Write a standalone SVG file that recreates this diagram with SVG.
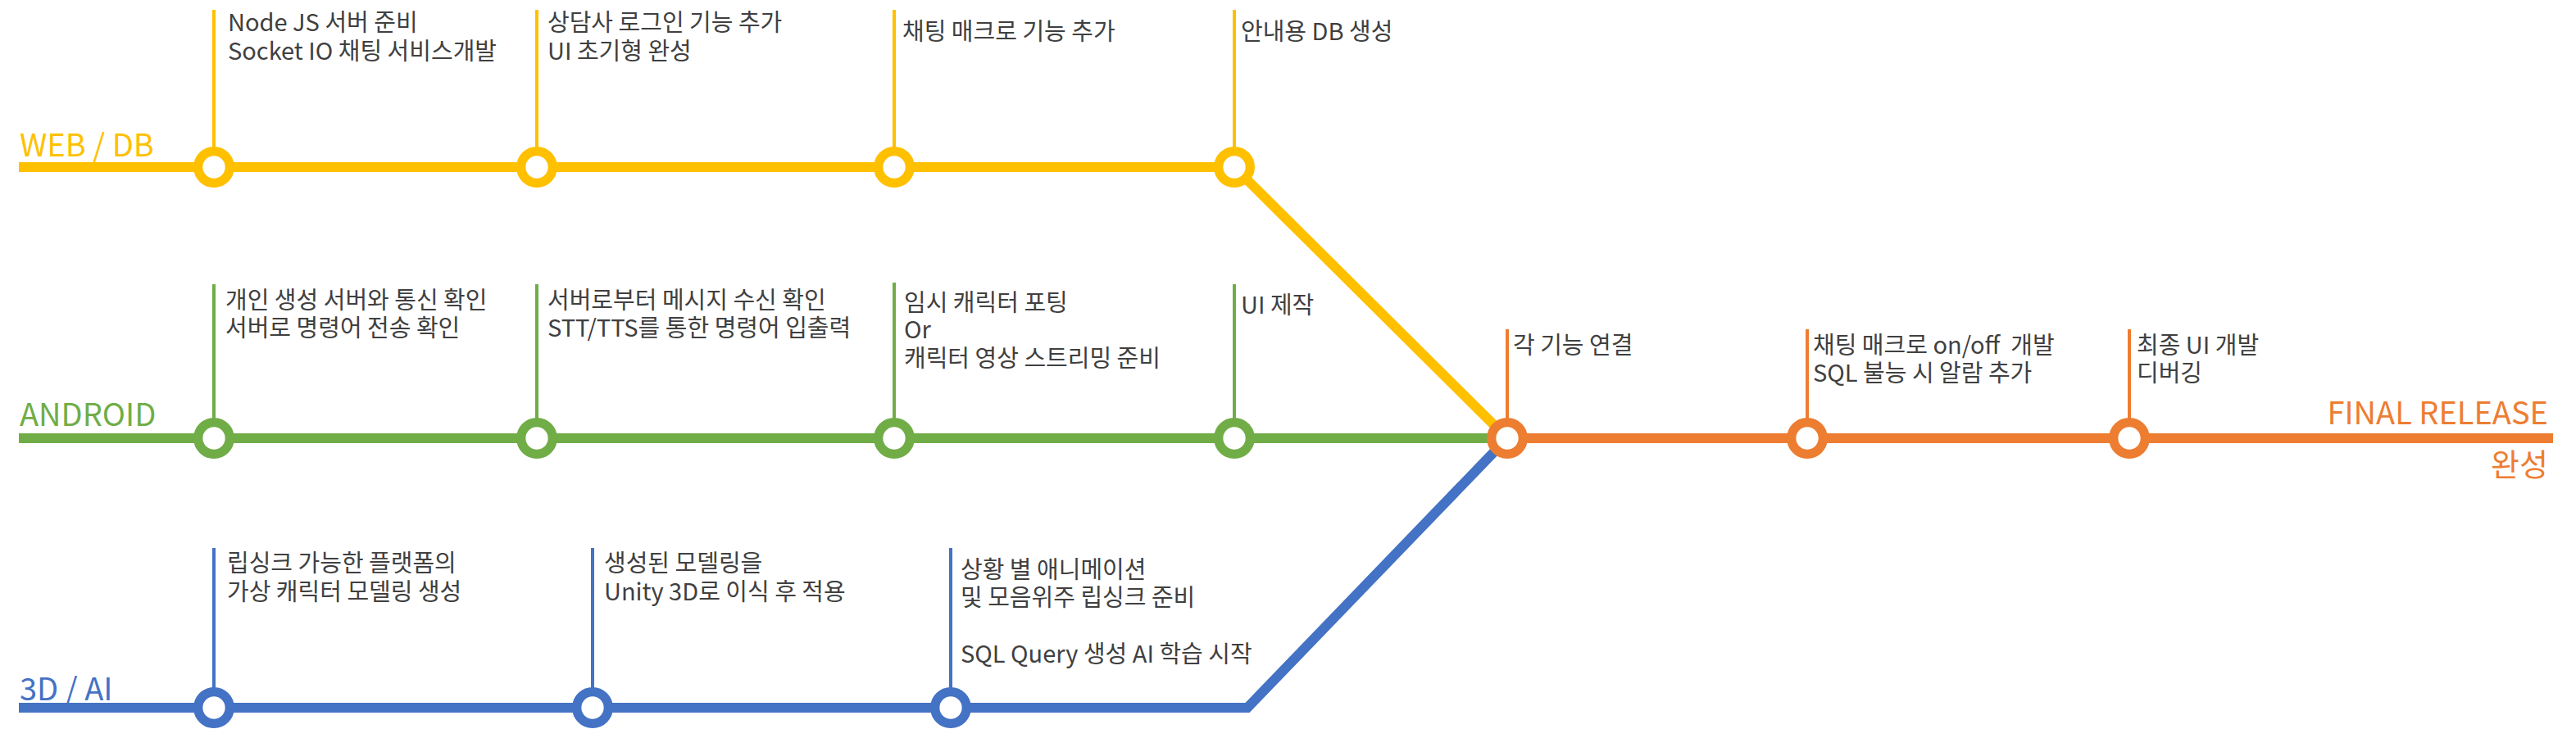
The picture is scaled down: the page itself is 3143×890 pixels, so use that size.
<svg xmlns="http://www.w3.org/2000/svg" width="3143" height="890" viewBox="0 0 3143 890">
<style>
text { font-family: "Noto Sans CJK KR", "Noto Sans", sans-serif; }
.t { font-size: 29px; fill: #404040; }
.lbl { font-size: 38px; }
.y { stroke: #FFC000; }
.g { stroke: #70AD47; }
.b { stroke: #4472C4; }
.o { stroke: #ED7D31; }
.line { fill: none; stroke-width: 12; stroke-linejoin: miter; }
.tick { fill: none; stroke-width: 4; }
.st { fill: #FFFFFF; stroke-width: 11.3; }
</style>
<rect width="3143" height="890" fill="#FFFFFF"/>
<g id="connectors">
  <polyline class="line y" points="23,204 1506,204 1839,535"/>
  <line class="line g" x1="23" y1="535" x2="1839" y2="535"/>
  <polyline class="line b" points="23,864 1522,864 1839,535"/>
  <line class="line o" x1="1839" y1="535" x2="3115" y2="535"/>
</g>
<g id="line-labels">
  <text class="lbl" x="24" y="191" fill="#FFC000">WEB / DB</text>
  <text class="lbl" x="24" y="520" fill="#70AD47">ANDROID</text>
  <text class="lbl" x="24" y="855" fill="#4472C4">3D / AI</text>
  <text class="lbl" x="3109" y="518" fill="#ED7D31" text-anchor="end">FINAL RELEASE</text>
  <text class="lbl" x="3109" y="581" fill="#ED7D31" text-anchor="end">완성</text>
</g>
<g id="web1">
  <line class="tick y" x1="261" y1="12" x2="261" y2="185"/>
  <circle class="st y" cx="261" cy="204" r="19.3"/>
  <text class="t"><tspan x="278" y="38">Node JS 서버 준비</tspan><tspan x="278" y="73">Socket IO 채팅 서비스개발</tspan></text>
</g>
<g id="web2">
  <line class="tick y" x1="655" y1="12" x2="655" y2="185"/>
  <circle class="st y" cx="655" cy="204" r="19.3"/>
  <text class="t"><tspan x="668" y="38">상담사 로그인 기능 추가</tspan><tspan x="668" y="73">UI 초기형 완성</tspan></text>
</g>
<g id="web3">
  <line class="tick y" x1="1091" y1="12" x2="1091" y2="185"/>
  <circle class="st y" cx="1091" cy="204" r="19.3"/>
  <text class="t" x="1101" y="49">채팅 매크로 기능 추가</text>
</g>
<g id="web4">
  <line class="tick y" x1="1506" y1="12" x2="1506" y2="185"/>
  <circle class="st y" cx="1506" cy="204" r="19.3"/>
  <text class="t" x="1514" y="49">안내용 DB 생성</text>
</g>
<g id="and1">
  <line class="tick g" x1="261" y1="347" x2="261" y2="516"/>
  <circle class="st g" cx="261" cy="535" r="19.3"/>
  <text class="t"><tspan x="275" y="377">개인 생성 서버와 통신 확인</tspan><tspan x="275" y="411">서버로 명령어 전송 확인</tspan></text>
</g>
<g id="and2">
  <line class="tick g" x1="655" y1="347" x2="655" y2="516"/>
  <circle class="st g" cx="655" cy="535" r="19.3"/>
  <text class="t"><tspan x="668" y="377">서버로부터 메시지 수신 확인</tspan><tspan x="668" y="411">STT/TTS를 통한 명령어 입출력</tspan></text>
</g>
<g id="and3">
  <line class="tick g" x1="1091" y1="345" x2="1091" y2="516"/>
  <circle class="st g" cx="1091" cy="535" r="19.3"/>
  <text class="t"><tspan x="1103" y="380">임시 캐릭터 포팅</tspan><tspan x="1103" y="413">Or</tspan><tspan x="1103" y="448">캐릭터 영상 스트리밍 준비</tspan></text>
</g>
<g id="and4">
  <line class="tick g" x1="1506" y1="347" x2="1506" y2="516"/>
  <circle class="st g" cx="1506" cy="535" r="19.3"/>
  <text class="t" x="1514" y="383">UI 제작</text>
</g>
<g id="fin1">
  <line class="tick o" x1="1839" y1="402" x2="1839" y2="516"/>
  <circle class="st o" cx="1839" cy="535" r="19.3"/>
  <text class="t" x="1846" y="432">각 기능 연결</text>
</g>
<g id="fin2">
  <line class="tick o" x1="2205" y1="402" x2="2205" y2="516"/>
  <circle class="st o" cx="2205" cy="535" r="19.3"/>
  <text class="t" xml:space="preserve"><tspan x="2212" y="432">채팅 매크로 on/off  개발</tspan><tspan x="2212" y="466">SQL 불능 시 알람 추가</tspan></text>
</g>
<g id="fin3">
  <line class="tick o" x1="2598" y1="402" x2="2598" y2="516"/>
  <circle class="st o" cx="2598" cy="535" r="19.3"/>
  <text class="t"><tspan x="2607" y="432">최종 UI 개발</tspan><tspan x="2607" y="466">디버깅</tspan></text>
</g>
<g id="ai1">
  <line class="tick b" x1="261" y1="669" x2="261" y2="845"/>
  <circle class="st b" cx="261" cy="864" r="19.3"/>
  <text class="t"><tspan x="277" y="698">립싱크 가능한 플랫폼의</tspan><tspan x="277" y="733">가상 캐릭터 모델링 생성</tspan></text>
</g>
<g id="ai2">
  <line class="tick b" x1="723" y1="669" x2="723" y2="845"/>
  <circle class="st b" cx="723" cy="864" r="19.3"/>
  <text class="t"><tspan x="737" y="698">생성된 모델링을</tspan><tspan x="737" y="733">Unity 3D로 이식 후 적용</tspan></text>
</g>
<g id="ai3">
  <line class="tick b" x1="1160" y1="669" x2="1160" y2="845"/>
  <circle class="st b" cx="1160" cy="864" r="19.3"/>
  <text class="t"><tspan x="1172" y="706">상황 별 애니메이션</tspan><tspan x="1172" y="740">및 모음위주 립싱크 준비</tspan></text>
  <text class="t" x="1172" y="809">SQL Query 생성 AI 학습 시작</text>
</g>
</svg>
